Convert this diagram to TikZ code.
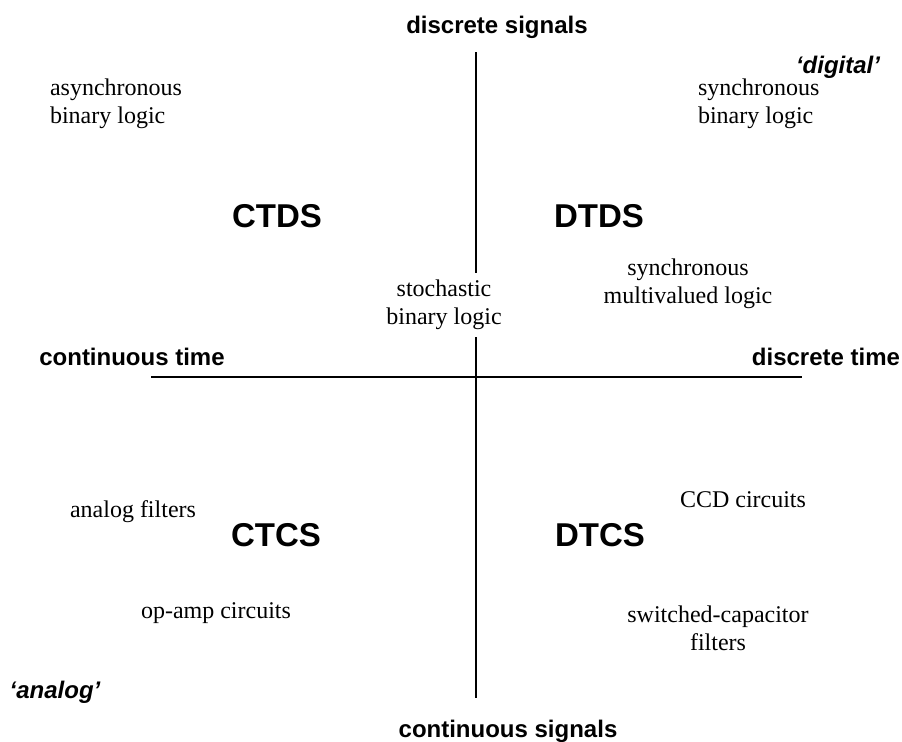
\documentclass[tikz,border=0pt]{standalone}
\usepackage{fontspec}
\setmainfont{Liberation Serif}
\setsansfont{Liberation Sans}
\begin{document}
\begin{tikzpicture}[x=0.5pt,y=-0.5pt,
    axislabel/.style={font=\sffamily\bfseries\fontsize{12}{14}\selectfont,anchor=base},
    quadrant/.style={font=\sffamily\bfseries\fontsize{16.5}{18}\selectfont},
    example/.style={font=\fontsize{12}{14}\selectfont,align=center},
    regime/.style={font=\sffamily\bfseries\itshape\fontsize{12}{14}\selectfont,anchor=base}]
    \useasboundingbox (0,0) rectangle (902,741);

    % axes
    \coordinate (top) at (476,52);
    \coordinate (bottom) at (476,698);
    \coordinate (left) at (151,377);
    \coordinate (right) at (802,377);
    \draw[line width=1pt] (top) -- (bottom);
    \draw[line width=1.2pt] (left) -- (right);

    \node[axislabel] (dsig) at (497,33) {discrete signals};
    \node[axislabel] (csig) at (508,737) {continuous signals};
    \node[axislabel] (ctime) at (132,365) {continuous time};
    \node[axislabel] (dtime) at (826,365) {discrete time};

    \node[regime] (digital) at (838,73) {‘digital’};
    \node[regime] (analog) at (55,698) {‘analog’};

    \node[quadrant] (CTDS) at (277,216) {CTDS};
    \node[quadrant] (DTDS) at (599,216) {DTDS};
    \node[quadrant] (CTCS) at (276,535) {CTCS};
    \node[quadrant] (DTCS) at (600,535) {DTCS};

    \node[example,align=left,anchor=west] (async) at (43,104) {asynchronous\\binary logic};
    \node[example,align=left,anchor=west] (sync) at (691,104) {synchronous\\binary logic};
    \node[example,fill=white] (stoch) at (444,305) {stochastic\\binary logic};
    \node[example] (multi) at (688,284) {synchronous\\multivalued logic};
    \node[example,anchor=base] (afilt) at (133,517) {analog filters};
    \node[example,anchor=base] (ccd) at (743,507) {CCD circuits};
    \node[example,anchor=base] (opamp) at (216,618) {op-amp circuits};
    \node[example] (swcap) at (718,628) {switched-capacitor\\filters};
\end{tikzpicture}
\end{document}
